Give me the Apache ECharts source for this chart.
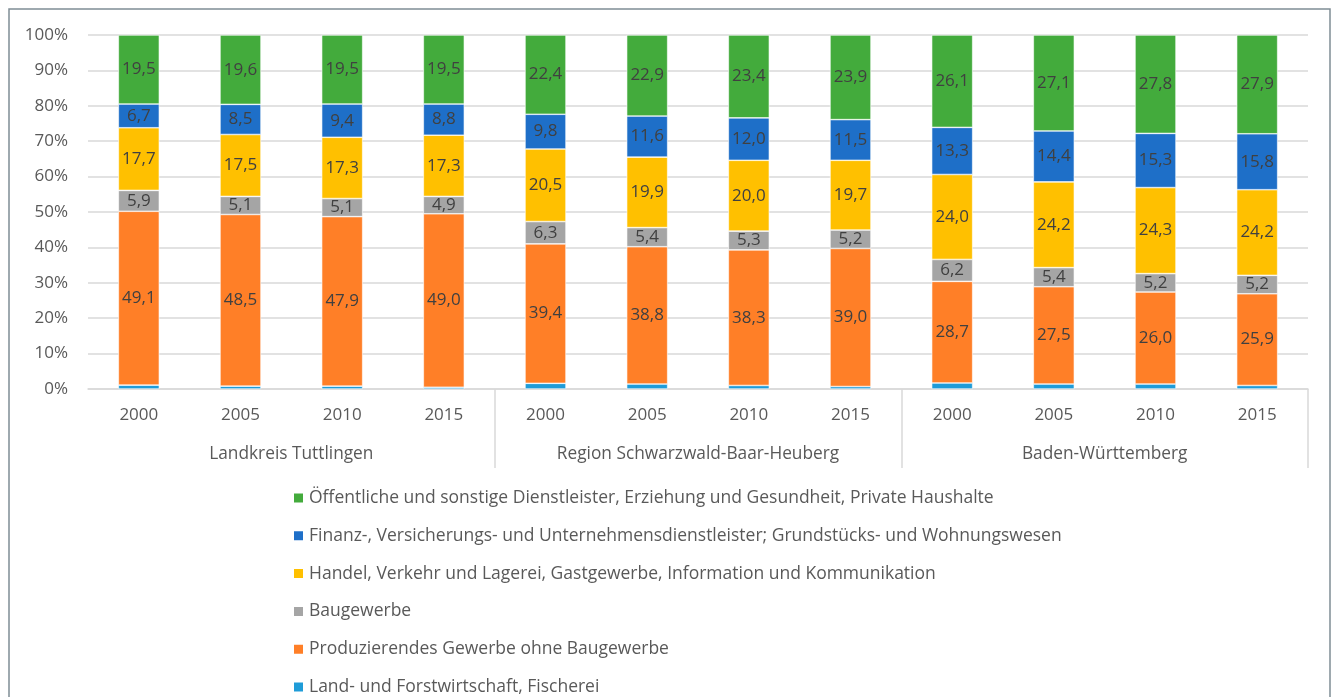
<!DOCTYPE html>
<html>
<head>
<meta charset="utf-8">
<script src="https://cdn.jsdelivr.net/npm/echarts@6/dist/echarts.min.js"></script>
<style>
  html, body { margin: 0; padding: 0; background: #fff; }
  #chart { width: 1332px; height: 697px; }
</style>
</head>
<body>
<div id="chart"></div>
<script>
// Kategorien (Jahr je Gebiet)
const years = ['2000', '2005', '2010', '2015', '2000', '2005', '2010', '2015', '2000', '2005', '2010', '2015'];
const regions = ['Landkreis Tuttlingen', 'Region Schwarzwald-Baar-Heuberg', 'Baden-Württemberg'];

// Anteile in % (von unten nach oben gestapelt)
const landwirtschaft = [1.1, 0.8, 0.8, 0.5, 1.6, 1.4, 1.0, 0.7, 1.7, 1.4, 1.4, 1.0];
const produzierend   = [49.1, 48.5, 47.9, 49.0, 39.4, 38.8, 38.3, 39.0, 28.7, 27.5, 26.0, 25.9];
const baugewerbe     = [5.9, 5.1, 5.1, 4.9, 6.3, 5.4, 5.3, 5.2, 6.2, 5.4, 5.2, 5.2];
const handel         = [17.7, 17.5, 17.3, 17.3, 20.5, 19.9, 20.0, 19.7, 24.0, 24.2, 24.3, 24.2];
const finanz         = [6.7, 8.5, 9.4, 8.8, 9.8, 11.6, 12.0, 11.5, 13.3, 14.4, 15.3, 15.8];
const oeffentlich    = [19.5, 19.6, 19.5, 19.5, 22.4, 22.9, 23.4, 23.9, 26.1, 27.1, 27.8, 27.9];

const yTicks = { min: 0, max: 100, interval: 10 };

const names = [
  'Land- und Forstwirtschaft, Fischerei',
  'Produzierendes Gewerbe ohne Baugewerbe',
  'Baugewerbe',
  'Handel, Verkehr und Lagerei, Gastgewerbe, Information und Kommunikation',
  'Finanz-, Versicherungs- und Unternehmensdienstleister; Grundstücks- und Wohnungswesen',
  'Öffentliche und sonstige Dienstleister, Erziehung und Gesundheit, Private Haushalte'
];
const values = [landwirtschaft, produzierend, baugewerbe, handel, finanz, oeffentlich];
const colors = ['#1f9cd8', '#ff7f27', '#a5a5a5', '#ffc000', '#1e6fc8', '#43ab3c'];

const font = '"Open Sans", Lato, sans-serif';
const textGrey = '#595959';

const chart = echarts.init(document.getElementById('chart'));

const series = values.map((data, i) => ({
  name: names[i],
  type: 'bar',
  stack: 'total',
  barWidth: 41,
  data: data,
  itemStyle: { color: colors[i], borderColor: '#ffffff', borderWidth: 0.6 },
  label: {
    show: i > 0,
    position: 'inside',
    color: '#404040',
    fontFamily: font,
    fontSize: 17,
    formatter: (p) => p.value.toFixed(1).replace('.', ',')
  }
}));

chart.setOption({
  animation: false,
  color: colors,
  graphic: [{
    type: 'rect',
    shape: { x: 9, y: 9, width: 1321, height: 720 },
    style: { fill: 'none', stroke: '#7f8d95', lineWidth: 1.5 },
    silent: true
  }],
  grid: { left: 88, right: 24, top: 35, bottom: 308 },
  legend: {
    orient: 'vertical',
    left: 292,
    top: 489,
    height: 260,
    padding: 0,
    itemWidth: 11,
    itemHeight: 11,
    itemGap: 19.8,
    icon: 'rect',
    data: names.slice().reverse(),
    textStyle: { color: textGrey, fontFamily: font, fontSize: 17.5, lineHeight: 17 }
  },
  xAxis: [
    {
      type: 'category',
      data: years,
      axisLine: { lineStyle: { color: '#d9d9d9', width: 1.5 } },
      axisTick: {
        show: true,
        length: 79,
        interval: (idx) => idx === 4 || idx === 8,
        lineStyle: { color: '#d9d9d9', width: 1.5 }
      },
      axisLabel: { color: textGrey, fontFamily: font, fontSize: 17, margin: 18, interval: 0 }
    },
    {
      type: 'category',
      data: regions,
      position: 'bottom',
      axisLine: { show: false },
      axisTick: { show: false },
      axisLabel: { color: textGrey, fontFamily: font, fontSize: 17.3, margin: 57, interval: 0 }
    }
  ],
  yAxis: {
    type: 'value',
    min: yTicks.min,
    max: yTicks.max,
    interval: yTicks.interval,
    axisLine: { show: false },
    axisTick: { show: false },
    splitLine: { lineStyle: { color: '#d9d9d9', width: 1.5 } },
    axisLabel: { color: textGrey, fontFamily: font, fontSize: 17, margin: 20, formatter: '{value}%' }
  },
  series: series
});
</script>
</body>
</html>
